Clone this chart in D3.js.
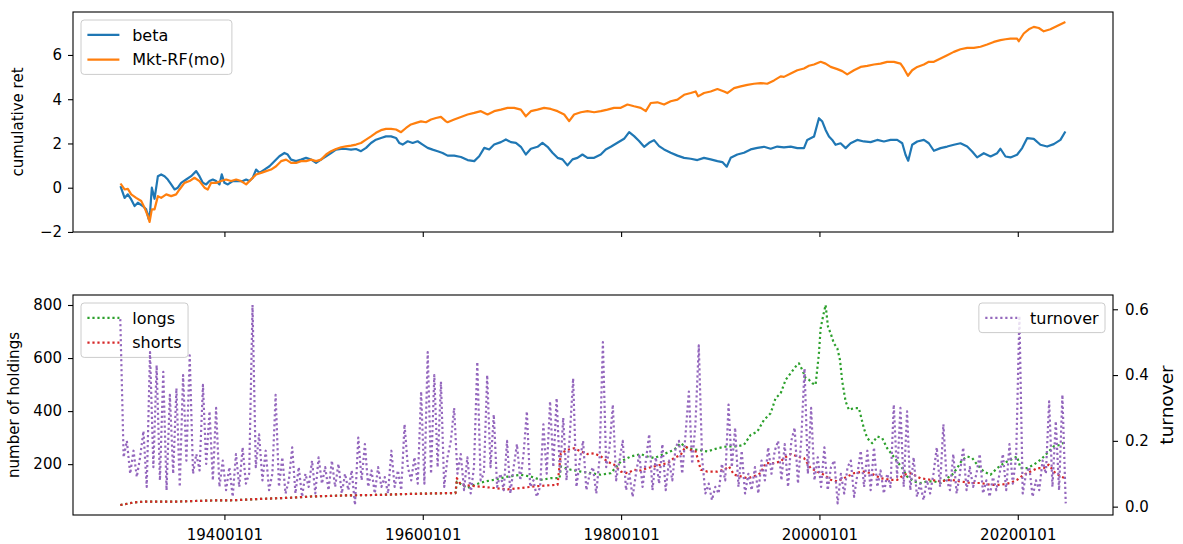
<!DOCTYPE html>
<html>
<head>
<meta charset="utf-8">
<script src="https://cdn.jsdelivr.net/npm/d3@7"></script>
<style>
  body { margin: 0; background: #fff; }
  svg { display: block; }
  text { font-family: "DejaVu Sans", sans-serif; }
</style>
</head>
<body>
<svg id="chart" width="1183" height="544"></svg>
<script>
// ---- data: cumulative returns, [decimal year, value] ----
const betaCum = [
  [1929.52,0.07],[1929.93,-0.46],[1930.26,-0.30],[1930.60,-0.53],[1930.94,-0.83],[1931.27,-0.68],[1931.77,-0.83],[1932.11,-0.98],[1932.35,-1.40],[1932.51,-1.05],[1932.68,0.00],[1932.95,-0.50],[1933.29,0.52],[1933.62,0.60],[1933.96,0.52],[1934.29,0.37],[1934.63,0.15],[1934.97,-0.08],[1935.30,0.00],[1935.64,0.22],[1936.14,0.37],[1936.64,0.52],[1937.15,0.75],[1937.48,0.52],[1937.82,0.22],[1938.16,0.15],[1938.49,0.30],[1938.83,0.37],[1939.16,0.30],[1939.50,0.15],[1939.73,0.60],[1940.00,0.22],[1940.34,0.15],[1940.84,0.30],[1941.35,0.30],[1941.85,0.30],[1942.19,0.37],[1942.52,0.30],[1942.86,0.45],[1943.19,0.82],[1943.53,0.67],[1944.03,0.82],[1944.54,0.97],[1945.04,1.20],[1945.54,1.42],[1946.05,1.57],[1946.38,1.50],[1946.72,1.27],[1947.22,1.20],[1947.73,1.27],[1948.23,1.35],[1948.74,1.27],[1949.24,1.12],[1949.74,1.27],[1950.25,1.42],[1950.75,1.57],[1951.25,1.72],[1951.76,1.75],[1952.26,1.75],[1952.77,1.72],[1953.27,1.75],[1953.77,1.65],[1954.28,1.80],[1954.78,2.02],[1955.28,2.17],[1955.79,2.25],[1956.29,2.32],[1956.80,2.32],[1957.30,2.25],[1957.64,2.02],[1957.97,1.95],[1958.48,2.10],[1958.98,2.02],[1959.48,2.10],[1959.99,1.95],[1960.49,1.80],[1960.99,1.72],[1961.50,1.65],[1962.00,1.57],[1962.50,1.45],
  [1963.17,1.45],[1963.85,1.39],[1964.52,1.25],[1965.19,1.20],[1965.69,1.42],[1966.20,1.80],[1966.70,1.73],[1967.20,1.95],[1967.88,2.06],[1968.38,2.18],[1968.88,2.06],[1969.39,2.03],[1969.89,1.85],[1970.39,1.50],[1970.90,1.76],[1971.57,1.85],[1972.07,2.03],[1972.58,1.85],[1973.08,1.58],[1973.59,1.35],[1974.09,1.28],[1974.59,1.01],[1975.10,1.28],[1975.60,1.35],[1976.10,1.50],[1976.61,1.35],[1977.28,1.35],[1977.95,1.50],[1978.45,1.73],[1978.96,1.85],[1979.63,2.03],[1980.30,2.21],[1980.81,2.51],[1981.31,2.33],[1981.81,2.11],[1982.32,1.85],[1982.82,2.03],[1983.32,2.15],[1983.83,1.88],[1984.33,1.73],[1985.00,1.58],[1985.68,1.45],[1986.35,1.35],[1987.02,1.31],[1987.69,1.25],[1988.36,1.35],[1989.03,1.28],[1989.71,1.20],[1990.21,1.16],[1990.65,0.95],[1991.05,1.35],[1991.72,1.50],[1992.39,1.58],[1993.06,1.73],[1993.74,1.80],[1994.41,1.85],[1995.08,1.76],
  [1995.75,1.86],[1996.42,1.82],[1997.10,1.86],[1997.77,1.79],[1998.44,1.79],[1998.77,2.16],[1999.45,2.31],[1999.95,3.14],[2000.29,2.99],[2000.62,2.61],[2000.96,2.31],[2001.29,2.16],[2001.63,1.94],[2002.13,2.01],[2002.64,1.79],[2003.14,2.01],[2003.81,2.16],[2004.48,2.09],[2005.16,2.06],[2005.83,2.16],[2006.50,2.09],[2007.17,2.16],[2007.84,2.16],[2008.35,2.01],[2008.68,1.49],[2008.95,1.22],[2009.35,1.94],[2009.86,2.09],[2010.53,2.16],[2011.03,2.01],[2011.54,1.67],[2012.21,1.79],[2012.88,1.86],[2013.55,1.94],[2014.22,2.01],[2014.90,1.86],[2015.40,1.64],[2015.90,1.37],[2016.57,1.56],[2017.25,1.41],[2017.92,1.56],[2018.25,1.76],[2018.76,1.41],[2019.26,1.37],[2019.93,1.49],[2020.44,1.79],[2020.94,2.24],[2021.61,2.21],[2022.28,1.94],[2022.96,1.86],[2023.63,1.97],[2024.30,2.16],[2024.80,2.54]
];

const mktCum = [
  [1929.52,0.19],[1929.93,-0.08],[1930.26,-0.05],[1930.60,-0.30],[1931.10,-0.46],[1931.61,-0.60],[1931.94,-0.90],[1932.28,-1.28],[1932.45,-1.55],[1932.68,-0.98],[1932.95,-0.98],[1933.29,-0.38],[1933.62,-0.46],[1934.13,-0.30],[1934.63,-0.38],[1935.13,-0.30],[1935.47,-0.08],[1935.97,0.22],[1936.48,0.30],[1936.98,0.45],[1937.48,0.30],[1937.99,0.00],[1938.32,-0.08],[1938.66,0.22],[1939.16,0.22],[1939.67,0.30],[1940.17,0.37],[1940.67,0.30],[1941.18,0.37],[1941.68,0.30],[1942.19,0.15],[1942.69,0.37],[1943.19,0.60],[1943.70,0.67],[1944.20,0.75],[1944.70,0.82],[1945.21,0.97],[1945.71,1.20],[1946.22,1.27],[1946.72,1.12],[1947.22,1.12],[1947.73,1.20],[1948.23,1.20],[1948.74,1.27],[1949.24,1.20],[1949.74,1.27],[1950.25,1.50],[1950.75,1.65],[1951.25,1.75],[1951.76,1.83],[1952.26,1.87],[1952.77,1.90],[1953.27,1.95],[1953.77,2.02],[1954.28,2.17],[1954.78,2.32],[1955.28,2.48],[1955.79,2.60],[1956.29,2.66],[1956.80,2.66],[1957.30,2.63],[1957.81,2.51],[1958.31,2.70],[1958.81,2.86],[1959.32,2.93],[1959.82,3.00],[1960.32,2.96],[1960.83,3.08],[1961.33,3.15],[1961.83,3.20],[1962.34,3.00],[1962.50,2.96],
  [1963.17,3.08],[1963.85,3.20],[1964.52,3.31],[1965.19,3.38],[1965.86,3.46],[1966.53,3.31],[1967.20,3.46],[1967.88,3.53],[1968.55,3.61],[1969.22,3.61],[1969.89,3.53],[1970.39,3.23],[1970.90,3.46],[1971.57,3.53],[1972.24,3.61],[1972.91,3.56],[1973.59,3.46],[1974.26,3.31],[1974.76,3.01],[1975.26,3.31],[1975.94,3.41],[1976.61,3.46],[1977.28,3.41],[1977.95,3.46],[1978.62,3.53],[1979.29,3.61],[1979.97,3.61],[1980.64,3.76],[1981.31,3.68],[1981.98,3.61],[1982.49,3.46],[1982.99,3.83],[1983.66,3.86],[1984.33,3.76],[1985.00,3.91],[1985.68,3.98],[1986.35,4.20],[1987.02,4.28],[1987.52,4.35],[1987.76,4.13],[1988.36,4.28],[1989.03,4.35],[1989.71,4.46],[1990.38,4.35],[1990.71,4.28],[1991.39,4.50],[1992.06,4.58],[1992.73,4.65],[1993.40,4.70],[1994.07,4.73],[1994.74,4.70],[1995.42,4.85],[1996.09,5.03],
  [1996.42,5.01],[1997.10,5.16],[1997.77,5.31],[1998.44,5.39],[1998.94,5.51],[1999.45,5.57],[2000.12,5.69],[2000.62,5.61],[2001.13,5.46],[2001.80,5.36],[2002.30,5.27],[2002.80,5.12],[2003.48,5.31],[2004.15,5.46],[2004.82,5.51],[2005.49,5.57],[2006.16,5.61],[2006.83,5.69],[2007.51,5.69],[2008.18,5.61],[2008.51,5.39],[2008.92,5.06],[2009.35,5.31],[2009.86,5.46],[2010.53,5.57],[2011.03,5.69],[2011.54,5.69],[2012.21,5.84],[2012.88,5.99],[2013.55,6.14],[2014.22,6.26],[2014.90,6.32],[2015.57,6.32],[2016.24,6.37],[2016.91,6.47],[2017.58,6.59],[2018.25,6.67],[2018.76,6.71],[2019.26,6.74],[2019.93,6.74],[2020.10,6.62],[2020.60,6.97],[2021.11,7.16],[2021.61,7.27],[2022.12,7.22],[2022.62,7.07],[2023.29,7.16],[2023.96,7.31],[2024.80,7.49]
];

// ---- data: number of holdings, [decimal year, count] ----
const shortsCount = [
  [1929.50,46],[1930.25,51],[1930.90,56],[1932.00,59],[1935.30,59],[1938.70,63],[1941.00,64],[1943.70,69],[1947.00,74],[1948.70,78],[1952.10,82],[1955.50,84],[1958.80,88],[1962.84,91],[1963.30,91],
  [1963.44,147],[1963.85,122],[1966.20,114],[1968.55,105],[1969.89,110],[1971.23,116],[1972.58,120],[1973.59,122],[1973.92,241],[1974.59,254],[1975.26,260],[1975.94,248],[1976.61,238],[1977.28,241],[1977.95,229],[1978.62,210],[1979.29,198],[1979.97,172],[1980.64,166],[1981.31,179],[1981.98,176],[1982.65,185],[1983.32,191],[1984.00,198],[1984.67,204],[1985.34,223],[1986.01,235],[1986.51,267],[1987.02,254],[1987.52,248],[1988.03,179],[1988.70,172],[1989.71,172],[1990.38,179],[1990.88,191],[1991.39,160],[1992.06,154],[1992.73,147],[1993.40,154],[1994.07,166],[1994.58,204],[1995.42,204],[1996.09,210],
  [1996.42,223],[1997.10,238],[1997.77,229],[1998.44,223],[1999.11,185],[1999.78,172],[2000.45,160],[2001.13,141],[2001.80,135],[2002.47,147],[2003.48,166],[2004.48,172],[2005.16,166],[2006.16,147],[2007.17,141],[2007.84,141],[2008.51,160],[2009.19,166],[2010.19,147],[2011.20,141],[2012.21,135],[2013.22,141],[2014.22,135],[2015.23,129],[2016.24,129],[2017.25,122],[2018.25,122],[2019.26,129],[2019.93,141],[2020.60,160],[2021.28,172],[2021.95,185],[2022.62,185],[2023.12,198],[2023.63,172],[2024.30,154],[2024.80,147]
];

const longsCount = [
  [1929.50,46],[1930.25,51],[1930.90,56],[1932.00,59],[1935.30,59],[1938.70,63],[1941.00,64],[1943.70,69],[1947.00,74],[1948.70,78],[1952.10,82],[1955.50,84],[1958.80,88],[1962.84,91],[1963.30,91],
  [1963.44,134],[1964.50,110],[1965.20,122],[1966.20,134],[1967.20,141],[1968.55,153],[1969.89,160],[1970.90,153],[1971.90,141],[1972.90,147],[1973.80,147],[1973.92,191],[1974.93,179],[1975.94,172],[1976.94,166],[1977.95,160],[1978.96,166],[1979.97,210],[1980.98,229],[1981.98,238],[1982.65,229],[1983.32,223],[1984.33,238],[1985.34,254],[1986.01,279],[1986.68,260],[1987.69,254],[1988.70,248],[1989.71,260],[1990.71,267],[1991.72,267],[1992.39,273],[1993.06,310],[1993.74,323],[1994.41,367],[1995.08,392],[1995.58,449],[1996.09,467],
  [1996.59,518],[1997.10,543],[1997.60,568],[1997.93,580],[1998.27,555],[1998.61,524],[1998.94,518],[1999.28,505],[1999.61,499],[1999.95,618],[2000.12,712],[2000.39,762],[2000.62,800],[2000.86,718],[2001.13,693],[2001.46,655],[2001.80,637],[2002.07,593],[2002.30,511],[2002.64,436],[2002.97,405],[2003.48,411],[2003.98,411],[2004.48,335],[2004.82,298],[2005.32,279],[2005.83,304],[2006.33,298],[2006.83,260],[2007.34,235],[2007.84,210],[2008.35,185],[2008.85,153],[2009.52,135],[2010.19,129],[2010.87,135],[2011.54,135],[2012.21,129],[2012.88,147],[2013.38,160],[2013.89,185],[2014.39,216],[2014.90,229],[2015.40,223],[2015.90,198],[2016.57,172],[2017.25,160],[2017.92,185],[2018.59,204],[2019.26,216],[2019.93,229],[2020.27,185],[2020.94,185],[2021.61,198],[2022.28,216],[2022.96,241],[2023.63,267],[2024.30,273],[2024.80,285]
];

// ---- data: turnover, one value every 4 months starting July 1929 ----
const turnoverStart = [1929, 6];   // year, month index
const turnoverStepMonths = 4;
const turnover = [
  0.57, 0.15,
  0.20, 0.10, 0.17,   0.09, 0.15, 0.23,   0.06, 0.47, 0.12,   0.43, 0.08, 0.41,   0.05, 0.34, 0.10,
  0.36, 0.06, 0.40,   0.14, 0.46, 0.10,   0.16, 0.11, 0.37,   0.13, 0.29, 0.08,   0.30, 0.06, 0.14,
  0.05, 0.12, 0.03,   0.16, 0.06, 0.18,   0.07, 0.10, 0.613,  0.12, 0.22, 0.08,   0.17, 0.05, 0.10,
  0.34, 0.06, 0.15,   0.04, 0.08, 0.18,   0.04, 0.12, 0.03,   0.10, 0.06, 0.14,   0.04, 0.15, 0.07,
  0.12, 0.05, 0.14,   0.06, 0.13, 0.04,   0.10, 0.05, 0.11,   0.005, 0.21, 0.08,  0.19, 0.06, 0.11,
  0.04, 0.12, 0.06,   0.09, 0.04, 0.17,   0.06, 0.11, 0.05,   0.25, 0.12, 0.08,   0.15, 0.07, 0.35,
  0.07, 0.47, 0.10,   0.40, 0.12, 0.38,   0.06, 0.15, 0.20,   0.30, 0.10, 0.16,   0.05, 0.15, 0.04,
  0.12, 0.44, 0.08,   0.10, 0.40, 0.12,   0.28, 0.06, 0.10,   0.05, 0.20, 0.04,   0.12, 0.19, 0.08,
  0.16, 0.29, 0.06,   0.08, 0.03, 0.06,   0.25, 0.10, 0.32,   0.12, 0.33, 0.10,   0.27, 0.08, 0.22,
  0.39, 0.06, 0.14,   0.20, 0.05, 0.10,   0.12, 0.04, 0.15,   0.50, 0.12, 0.18,   0.31, 0.08, 0.14,
  0.20, 0.05, 0.10,   0.03, 0.10, 0.16,   0.06, 0.14, 0.22,   0.05, 0.15, 0.07,   0.19, 0.05, 0.14,
  0.08, 0.18, 0.20,   0.10, 0.22, 0.35,   0.13, 0.25, 0.49,   0.15, 0.04, 0.07,   0.02, 0.06, 0.04,
  0.13, 0.08, 0.31,   0.12, 0.24, 0.06,   0.17, 0.04, 0.10,   0.05, 0.12, 0.04,   0.14, 0.08, 0.18,
  0.10, 0.17, 0.20,   0.08, 0.19, 0.06,   0.20, 0.24, 0.07,   0.20, 0.42, 0.10,   0.30, 0.08, 0.15,
  0.06, 0.18, 0.05,   0.12, 0.14, 0.01,   0.10, 0.04, 0.12,   0.14, 0.03, 0.10,   0.17, 0.06, 0.17,
  0.05, 0.18, 0.06,   0.11, 0.04, 0.10,   0.06, 0.31, 0.09,   0.30, 0.06, 0.29,   0.05, 0.15, 0.03,
  0.07, 0.02, 0.08,   0.04, 0.10, 0.18,   0.06, 0.25, 0.08,   0.05, 0.16, 0.04,   0.10, 0.18, 0.05,
  0.12, 0.06, 0.10,   0.16, 0.04, 0.08,   0.03, 0.09, 0.05,   0.10, 0.16, 0.05,   0.19, 0.07, 0.15,
  0.58, 0.04, 0.10,   0.12, 0.03, 0.08,   0.05, 0.14, 0.10,   0.32, 0.06, 0.26,   0.05, 0.34, 0.01
];

// ---- tick values ----
const xTickYears = [1940, 1960, 1980, 2000, 2020];
const retTicks = [-2, 0, 2, 4, 6];
const holdingsTicks = [200, 400, 600, 800];
const turnoverTicks = [0.0, 0.2, 0.4, 0.6];

// ---- series styling ----
const C = { blue: "#1f77b4", orange: "#ff7f0e", green: "#2ca02c", red: "#d62728", purple: "#9467bd" };
const FS = 15;              // tick / axis label font size, px
const LEGEND_FS = 16;       // legend font size, px
const LW = 2.2;             // line width, px
const DOTS = "2.2,2.8";     // dotted pattern

// ---- layout ----
const frame = { left: 73, right: 1113 };
const topBox = { left: frame.left, right: frame.right, top: 12, bottom: 232 };
const botBox = { left: frame.left, right: frame.right, top: 295, bottom: 515 };

const svg = d3.select("#chart");

function toDate(y) {
  const yr = Math.floor(y);
  const a = new Date(yr, 0, 1), b = new Date(yr + 1, 0, 1);
  return new Date(a.getTime() + (y - yr) * (b - a));
}
const asPoints = arr => arr.map(([y, v]) => ({ date: toDate(y), v }));

const beta = asPoints(betaCum);
const mkt = asPoints(mktCum);
const longs = asPoints(longsCount);
const shorts = asPoints(shortsCount);
const turn = turnover.map((v, i) => ({
  date: d3.timeMonth.offset(new Date(turnoverStart[0], turnoverStart[1], 1), turnoverStepMonths * i),
  v
}));

// 5% autoscale margins on every axis
function padExtent(ext, f = 0.05) {
  const p = (ext[1] - ext[0]) * f;
  return [ext[0] - p, ext[1] + p];
}

const dateExt = d3.extent([...beta, ...mkt, ...longs, ...shorts, ...turn], d => +d.date);
const x = d3.scaleTime()
  .domain(padExtent(dateExt).map(t => new Date(t)))
  .range([frame.left, frame.right]);

const yRet = d3.scaleLinear()
  .domain(padExtent(d3.extent([...beta, ...mkt], d => d.v)))
  .range([topBox.bottom, topBox.top]);
const yHold = d3.scaleLinear()
  .domain(padExtent(d3.extent([...longs, ...shorts], d => d.v)))
  .range([botBox.bottom, botBox.top]);
const yTurn = d3.scaleLinear()
  .domain(padExtent(d3.extent(turn, d => d.v)))
  .range([botBox.bottom, botBox.top]);

const xTicks = xTickYears.map(y => new Date(y, 0, 1));

function styleAxis(g) {
  g.attr("font-size", FS).attr("font-family", '"DejaVu Sans", sans-serif');
  g.select(".domain").remove();
  g.selectAll(".tick line").attr("stroke", "#000").attr("stroke-width", 1.1);
  g.selectAll(".tick text").attr("fill", "#000");
}

function drawLine(g, data, yScale, color, dash) {
  g.append("path")
    .datum(data)
    .attr("fill", "none")
    .attr("stroke", color)
    .attr("stroke-width", LW)
    .attr("stroke-linejoin", "round")
    .attr("stroke-dasharray", dash || null)
    .attr("d", d3.line().x(d => x(d.date)).y(d => yScale(d.v)));
}

function drawFrame(box) {
  svg.append("rect")
    .attr("x", box.left).attr("y", box.top)
    .attr("width", box.right - box.left).attr("height", box.bottom - box.top)
    .attr("fill", "none").attr("stroke", "#000").attr("stroke-width", 1.1);
}

function drawLegend(items, box, corner) {
  const em = LEGEND_FS, pad = 0.4 * em, handleLen = 2 * em, gap = 0.8 * em;
  const rowH = 1.05 * em, spacing = 0.5 * em, axPad = 0.5 * em;
  const g = svg.append("g");
  const rect = g.append("rect");
  const texts = items.map(it => g.append("text").attr("font-size", em).attr("fill", "#000").text(it.label));
  const tw = d3.max(texts, t => t.node().getComputedTextLength());
  const w = 2 * pad + handleLen + gap + tw;
  const h = 2 * pad + items.length * rowH + (items.length - 1) * spacing;
  const x0 = corner === "left" ? box.left + axPad : box.right - axPad - w;
  const y0 = box.top + axPad;
  rect.attr("x", x0).attr("y", y0).attr("width", w).attr("height", h)
    .attr("rx", 0.2 * em).attr("ry", 0.2 * em)
    .attr("fill", "#fff").attr("fill-opacity", 0.8)
    .attr("stroke", "#cccccc").attr("stroke-width", 1);
  items.forEach((it, i) => {
    const cy = y0 + pad + rowH / 2 + i * (rowH + spacing);
    g.append("line")
      .attr("x1", x0 + pad).attr("x2", x0 + pad + handleLen)
      .attr("y1", cy).attr("y2", cy)
      .attr("stroke", it.color).attr("stroke-width", LW)
      .attr("stroke-dasharray", it.dash || null);
    texts[i].attr("x", x0 + pad + handleLen + gap).attr("y", cy).attr("dy", "0.36em");
  });
}

function yLabel(text, cx, cy, size) {
  svg.append("text")
    .attr("transform", `translate(${cx},${cy}) rotate(-90)`)
    .attr("text-anchor", "middle")
    .attr("dy", "0.36em")
    .attr("font-size", size)
    .attr("fill", "#000")
    .text(text);
}

// ---------- top panel: cumulative returns ----------
svg.append("g")
  .attr("transform", `translate(0,${topBox.bottom})`)
  .call(d3.axisBottom(x).tickValues(xTicks).tickFormat("").tickSize(5).tickSizeOuter(0))
  .call(styleAxis);
svg.append("g")
  .attr("transform", `translate(${topBox.left},0)`)
  .call(d3.axisLeft(yRet).tickValues(retTicks).tickFormat(d3.format("d")).tickSize(5).tickPadding(6).tickSizeOuter(0))
  .call(styleAxis);

const gTop = svg.append("g");
drawLine(gTop, beta, yRet, C.blue);
drawLine(gTop, mkt, yRet, C.orange);
drawFrame(topBox);
drawLegend([
  { label: "beta", color: C.blue },
  { label: "Mkt-RF(mo)", color: C.orange }
], topBox, "left");
yLabel("cumulative ret", 18, (topBox.top + topBox.bottom) / 2, FS);

// ---------- bottom panel: holdings and turnover ----------
svg.append("g")
  .attr("transform", `translate(0,${botBox.bottom})`)
  .call(d3.axisBottom(x).tickValues(xTicks).tickFormat(d3.timeFormat("%Y%m%d")).tickSize(5).tickPadding(9).tickSizeOuter(0))
  .call(styleAxis);
svg.append("g")
  .attr("transform", `translate(${botBox.left},0)`)
  .call(d3.axisLeft(yHold).tickValues(holdingsTicks).tickFormat(d3.format("d")).tickSize(5).tickPadding(6).tickSizeOuter(0))
  .call(styleAxis);
svg.append("g")
  .attr("transform", `translate(${botBox.right},0)`)
  .call(d3.axisRight(yTurn).tickValues(turnoverTicks).tickFormat(d3.format(".1f")).tickSize(5).tickPadding(7).tickSizeOuter(0))
  .call(styleAxis);

const gBot = svg.append("g");
drawLine(gBot, longs, yHold, C.green, DOTS);
drawLine(gBot, shorts, yHold, C.red, DOTS);
drawLegend([
  { label: "longs", color: C.green, dash: DOTS },
  { label: "shorts", color: C.red, dash: DOTS }
], botBox, "left");

const gTwin = svg.append("g");
drawLine(gTwin, turn, yTurn, C.purple, DOTS);
drawFrame(botBox);
drawLegend([{ label: "turnover", color: C.purple, dash: DOTS }], botBox, "right");

yLabel("number of holdings", 14, (botBox.top + botBox.bottom) / 2, FS);
yLabel("turnover", 1166, (botBox.top + botBox.bottom) / 2, 18.5);
</script>
</body>
</html>
